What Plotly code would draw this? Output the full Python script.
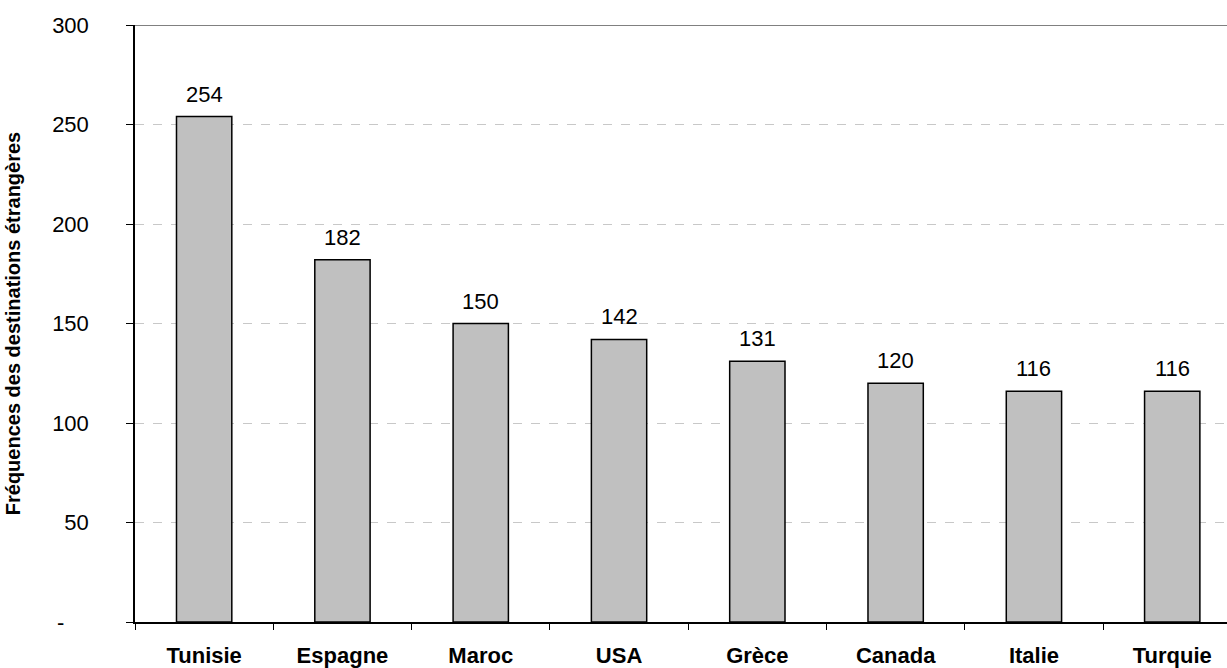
import plotly.graph_objects as go

# Destinations and counts
pays = ["Tunisie", "Espagne", "Maroc", "USA", "Grèce", "Canada", "Italie", "Turquie"]
frequences = [254, 182, 150, 142, 131, 120, 116, 116]

# Y axis ticks (zero shown as an accounting dash)
y_ticks = [0, 50, 100, 150, 200, 250, 300]
y_tick_labels = ["-\u00a0\u00a0\u00a0\u00a0", "50", "100", "150", "200", "250", "300"]

FONT = "Liberation Sans, Arial, sans-serif"

fig = go.Figure()
fig.add_trace(go.Bar(
    x=pays,
    y=frequences,
    width=0.4,
    marker=dict(color="#c0c0c0", line=dict(color="#000000", width=1.5)),
    hoverinfo="x+y",
))

# Value labels above each bar
for p, v in zip(pays, frequences):
    fig.add_annotation(
        x=p, y=v, text=str(v), showarrow=False,
        yanchor="bottom", yshift=8,
        font=dict(family=FONT, size=22, color="#000000"),
    )

# Solid top border of the plot area
fig.add_shape(type="line", xref="paper", yref="y", x0=0, x1=1, y0=300, y1=300,
              line=dict(color="#808080", width=2))

fig.update_layout(
    width=1227, height=668,
    margin=dict(l=135, r=0, t=25, b=46),
    paper_bgcolor="#ffffff", plot_bgcolor="#ffffff",
    showlegend=False,
    font=dict(family=FONT, color="#000000"),
    xaxis=dict(
        range=[-0.5, 7.396],
        automargin=False,
        showline=True, linecolor="#000000", linewidth=1.5,
        ticks="outside", ticklen=6, tickcolor="#000000", tickwidth=1,
        tickson="boundaries",
        showgrid=False,
        tickfont=dict(family=FONT, size=22, color="#000000", weight="bold"),
        ticklabelstandoff=13,
    ),
    yaxis=dict(
        range=[0, 300],
        automargin=False,
        tickvals=y_ticks, ticktext=y_tick_labels,
        showline=True, linecolor="#000000", linewidth=1.5,
        ticks="outside", ticklen=7, tickcolor="#000000",
        showgrid=True, gridcolor="#c8c8c8", gridwidth=1, griddash="9px,9px",
        zeroline=False,
        tickfont=dict(family=FONT, size=22, color="#000000"),
        ticklabelstandoff=33,
        title=dict(text="Fréquences des destinations étrangères",
                   font=dict(family=FONT, size=20, color="#000000", weight="bold"),
                   standoff=26),
    ),
)

fig.write_html("out.html")
